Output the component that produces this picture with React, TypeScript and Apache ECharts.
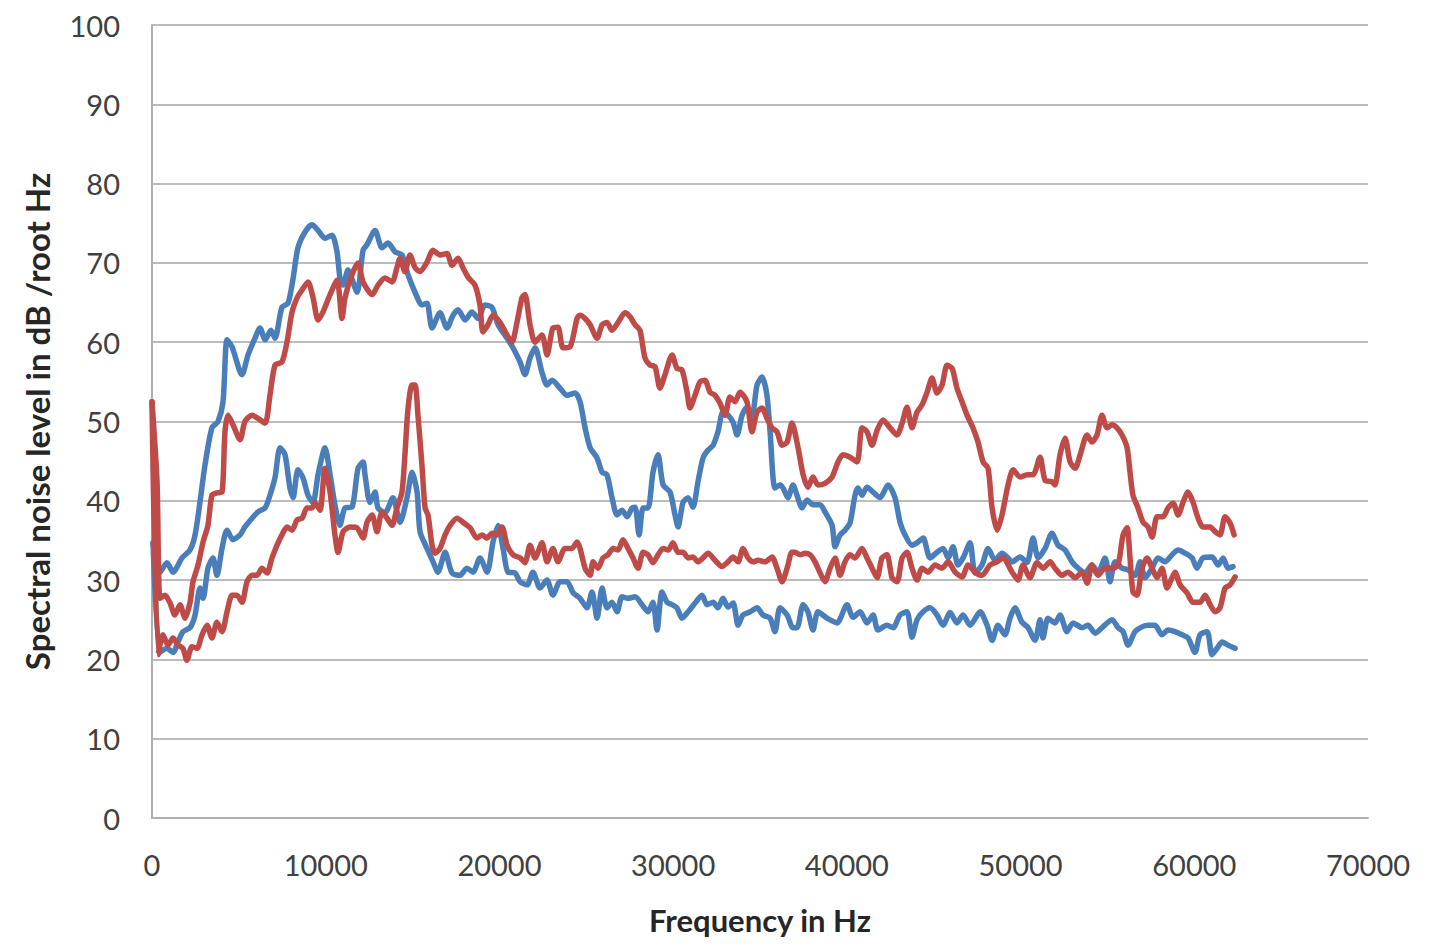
import React, { useEffect, useRef } from "react";
import * as echarts from "echarts";

// Frequency (kHz) and spectral noise level (dB / root Hz)
const freqA = [0.06,0.46,0.86,1.21,1.73,2.19,2.48,2.76,3.05,3.45,3.80,4.09,4.32,4.61,5.18,5.53,5.93,6.22,6.51,6.85,7.08,7.48,7.83,8.12,8.40,8.81,9.21,9.56,9.96,10.36,10.65,10.82,11.00,11.28,11.80,12.15,12.38,12.84,13.24,13.59,13.99,14.39,14.74,15.14,15.54,15.83,16.12,16.58,16.98,17.33,17.62,18.02,18.42,18.77,19.17,19.57,19.92,20.44,20.78,21.19,21.47,21.76,22.05,22.45,22.74,23.03,23.49,23.89,24.35,24.64,24.93,25.22,25.62,25.91,26.19,26.48,26.77,27.06,27.35,27.63,27.81,28.04,28.27,28.55,28.84,29.13,29.42,29.82,30.11,30.28,30.57,30.86,31.14,31.43,31.72,32.01,32.30,32.58,32.87,33.16,33.45,33.68,33.97,34.25,34.54,34.83,35.12,35.40,35.58,35.86,36.15,36.33,36.61,36.90,37.13,37.42,37.71,38.05,38.46,38.74,39.15,39.32,39.61,39.89,40.18,40.47,40.64,40.87,41.16,41.51,41.91,42.37,42.77,43.06,43.35,43.75,44.10,44.39,44.79,45.19,45.54,45.83,46.11,46.40,46.69,47.09,47.38,47.78,48.13,48.53,48.93,49.28,49.51,49.97,50.37,50.72,51.01,51.41,51.81,52.16,52.56,52.96,53.31,53.71,54.11,54.46,54.86,55.15,55.44,55.84,56.19,56.59,56.88,57.17,57.57,57.91,58.32,58.72,59.07,59.47,59.87,60.16,60.50,61.02,61.37,61.66,61.94,62.23];
const levelA = [34.7,31,32.2,31,32.8,33.8,35.7,39.8,44.5,49.2,50,52.5,60.3,59.4,55.9,58.4,60.5,61.8,60.3,61.5,60.5,64.4,64.9,68,71.9,73.9,74.8,74.1,73.1,73.5,71.4,68.1,67.2,69.1,66.3,71.6,72.3,74.1,71.9,72.5,71.4,71,68.5,66.3,64.7,64.9,61.8,63.7,61.8,63.4,64.1,62.8,63.8,63,64.7,64.4,62.2,60.5,59.3,57.5,55.9,58,59.3,56.2,54.6,55.2,54.2,53.3,53.6,52.5,49.2,46.7,45.4,43.6,43.3,40.4,38.2,38.8,38,39.1,39.2,35.7,39.1,39.1,43.6,45.8,42,41.1,38.2,36.7,39.8,40.4,39.2,42.4,45.4,46.4,47,48.7,51.2,50.8,49.9,48.3,50.8,51.8,50.8,54.6,55.6,53.3,48.7,41.6,42,41.6,40.4,42,40.7,39.1,40.1,39.5,39.5,38.6,36.9,34.2,35.7,36.3,37.2,40.7,41.6,40.7,41.7,41.1,40.4,42,40.4,37.3,35.7,34.4,34.8,35.3,32.8,33.5,34,32.8,34.2,31.9,32.8,34.7,30.9,31.9,34,32.5,33.4,32.8,32.3,32.9,32.2,35.3,32.8,34,35.9,34.4,33.8,32.3,31.5,30.9,31.9,31,32.8,29.8,32.3,31.5,31.3,30.6,32.3,30.3,31.5,32.8,32.3,33.2,33.8,33.4,32.8,31.5,32.8,32.9,31.9,32.8,31.5,31.7];

const freqB = [0.06,0.46,0.86,1.21,1.50,1.78,2.19,2.48,2.76,2.94,3.22,3.51,3.74,4.03,4.32,4.66,5.07,5.35,5.76,6.10,6.51,6.79,7.08,7.37,7.66,7.94,8.12,8.40,8.69,8.98,9.27,9.56,9.96,10.25,10.53,10.82,11.11,11.51,11.86,12.15,12.26,12.55,12.84,13.01,13.41,13.87,14.28,14.68,14.97,15.26,15.43,15.83,16.18,16.46,16.87,17.27,17.73,18.13,18.48,18.88,19.29,19.63,19.92,20.21,20.49,20.90,21.19,21.59,21.93,22.34,22.74,23.08,23.49,23.89,24.24,24.64,25.04,25.33,25.62,25.91,26.19,26.48,26.77,27.06,27.40,27.81,28.21,28.55,28.84,29.07,29.36,29.65,29.94,30.22,30.51,30.86,31.26,31.66,31.95,32.30,32.58,32.87,33.16,33.45,33.74,34.02,34.43,34.83,35.17,35.58,35.86,36.15,36.56,36.90,37.13,37.48,37.76,38.05,38.34,38.86,39.43,40.01,40.36,40.76,41.16,41.51,41.79,42.31,42.66,43.06,43.46,43.75,44.04,44.39,44.79,45.19,45.54,45.94,46.34,46.69,47.09,47.67,48.07,48.36,48.70,49.10,49.39,49.68,50.08,50.43,50.83,51.12,51.29,51.58,51.98,52.27,52.67,53.02,53.54,53.88,54.29,54.69,55.27,55.61,55.90,56.19,56.59,56.99,57.34,57.74,58.14,58.49,58.89,59.30,59.64,60.04,60.33,60.74,61.02,61.31,61.60,61.94,62.35];
const levelB = [34.7,20.9,21.4,20.9,22.2,23.5,24,25.6,29,27.7,31.5,32.8,30.6,34,36.3,35.1,35.7,36.7,37.8,38.6,39.1,40.7,42.9,46.7,45.8,41.6,40.4,43.9,42.9,40.7,39.8,43.3,46.7,43.3,39.5,36.9,39.1,39.2,44.1,44.9,43.3,39.8,41.1,39.1,38.5,40.4,37.3,40.4,43.6,41.1,36.1,34,32.3,31,33.5,30.9,30.6,31.5,31,32.8,31,34.8,36.9,34,31,30.9,29.8,29.4,31,29,30,28.1,29.8,29.8,28.4,27.7,26.5,28.5,25.2,29,26.5,27.2,26,27.9,27.7,27.9,26.9,26,27.2,23.7,28.5,27.2,26.9,26.5,25.2,26,27.1,28.1,26.9,27.2,26.5,27.7,26.6,27.1,24.3,25.6,26,26.5,25.6,25.2,23.5,26.5,25.6,24,24,26.9,26,23.7,26,25.2,24.6,26.9,25.3,26,24.6,25.6,23.7,24.3,24,25.6,26,22.8,25,26,26.5,25.6,24.3,25.9,24.6,25.6,24.3,26,24.3,22.4,24.3,23.1,25.2,26.5,24.7,24,22.4,25,22.7,25.2,24.6,25.6,23.5,24.6,24,24.3,23.3,24,25,24,23.5,21.8,23.5,24.1,24.3,24.3,23.1,23.7,23.5,23.1,22.7,20.9,23.1,23.5,20.6,21.4,22.2,21.8,21.4];

const freqC = [0,0.29,0.46,0.75,1.04,1.32,1.61,1.90,2.19,2.36,2.65,2.94,3.22,3.45,3.74,4.03,4.20,4.38,4.66,5.07,5.35,5.76,6.10,6.51,6.79,7.08,7.48,7.77,8.06,8.35,8.64,8.98,9.27,9.56,9.84,10.25,10.65,10.94,11.11,11.51,11.86,12.15,12.67,13.01,13.41,13.82,14.10,14.28,14.56,14.85,15.14,15.43,15.83,16.18,16.58,16.98,17.27,17.62,17.90,18.19,18.59,18.88,19.05,19.34,19.63,20.03,20.44,20.72,21.01,21.30,21.47,21.76,22.05,22.45,22.74,23.08,23.37,23.66,24.06,24.47,24.64,24.93,25.22,25.62,25.91,26.19,26.48,26.83,27.23,27.52,27.81,28.09,28.38,28.67,28.96,29.24,29.53,29.94,30.22,30.51,30.80,30.97,31.26,31.55,31.83,32.12,32.41,32.70,32.99,33.27,33.56,33.85,34.25,34.54,34.83,35.12,35.40,35.69,35.98,36.27,36.56,36.84,37.19,37.48,37.76,38.05,38.34,38.74,39.15,39.49,39.78,40.18,40.59,40.87,41.16,41.45,41.74,42.08,42.49,42.89,43.18,43.46,43.75,44.04,44.33,44.62,44.90,45.19,45.48,45.77,46.06,46.34,46.63,46.92,47.26,47.55,47.84,48.13,48.36,48.65,48.93,49.28,49.57,49.97,50.37,50.72,51.12,51.41,51.81,51.98,52.27,52.56,52.85,53.14,53.43,53.83,54.11,54.40,54.69,54.98,55.27,55.55,55.84,56.13,56.30,56.47,56.76,57.05,57.34,57.57,57.86,58.20,58.49,58.78,59.07,59.35,59.64,59.93,60.22,60.50,60.91,61.20,61.48,61.77,62.06,62.29];
const levelC = [52.5,42.4,27.7,28.1,27.1,25.6,26.9,25.2,27.2,29.8,31.9,34.8,36.9,40.7,41,41.1,48.7,50.8,49.6,47.7,50,50.8,50.4,49.8,53.3,57.1,57.5,60,63.8,65.6,66.6,67.6,65.6,62.8,63.8,66,67.8,63,65.6,68.5,70,67.6,66,67.2,68.1,67.6,69.4,70.6,68.9,71,69.4,68.9,70.1,71.6,71,71.2,69.7,70.6,69.4,68.2,67.2,64.7,61.3,62.2,63.4,62.5,60.9,60,62.5,65.6,66,62.2,60,60.9,58.4,61.8,61.9,59.3,59.4,63,63.4,63,62.2,60.5,62.2,62.5,61.5,62.5,63.7,63.2,62.2,61.5,58,57.1,56.9,54.2,55.9,58.4,56.7,56.5,53.7,51.7,53.3,55,55.2,53.7,53.3,52.3,50.8,53.1,52.5,53.7,52.5,48.7,51.2,51.7,50.4,49.2,48.7,47,47.4,49.8,46.7,43.3,41.7,43,42,42.2,43,44.9,45.8,45.5,44.9,49.2,48.7,47,48.9,50.2,49.2,48.3,49.8,51.8,49.2,51.2,52.1,53.7,55.5,53.6,54.6,57.1,56.7,54.2,52.5,50.8,49.2,47.4,44.9,44.1,39.1,36.3,38.2,42,43.9,43,43.3,43.3,45.5,42.6,42.4,42,45.8,47.9,44.9,44.1,45.8,48.3,47.4,48.3,50.8,49.2,49.6,49.2,48.3,46.7,43.6,40.7,39.1,37.3,36.7,35.4,38,38,39.1,39.7,38.2,39.8,41.1,39.8,37.8,36.7,36.7,36.1,35.7,38,37.2,35.7];

const freqD = [0,0.35,0.63,0.92,1.21,1.50,1.78,2.01,2.30,2.59,2.88,3.17,3.45,3.74,4.03,4.32,4.61,4.89,5.18,5.47,5.76,6.04,6.33,6.62,6.91,7.20,7.48,7.77,8.06,8.35,8.64,8.92,9.21,9.38,9.67,9.96,10.25,10.53,10.71,11.00,11.40,11.80,12.15,12.38,12.67,12.95,13.24,13.53,13.82,14.10,14.39,14.56,14.74,14.97,15.14,15.31,15.54,15.72,15.89,16.12,16.29,16.58,16.87,17.16,17.56,17.90,18.31,18.71,19.00,19.29,19.57,19.86,20.15,20.44,20.78,21.19,21.47,21.76,22.05,22.45,22.74,23.08,23.37,23.78,24.18,24.47,24.64,24.93,25.22,25.39,25.68,25.96,26.25,26.54,26.83,27.11,27.40,27.69,27.98,28.27,28.55,28.84,29.13,29.42,29.71,29.99,30.28,30.57,30.86,31.14,31.43,31.72,32.01,32.41,32.81,33.16,33.45,33.74,34.02,34.31,34.60,34.89,35.29,35.69,35.98,36.27,36.56,36.84,37.02,37.31,37.59,37.88,38.17,38.46,38.74,39.03,39.32,39.61,39.89,40.18,40.47,40.87,41.16,41.45,41.74,42.02,42.31,42.60,42.89,43.18,43.46,43.75,44.04,44.33,44.67,45.08,45.48,45.83,46.23,46.63,46.98,47.38,47.78,48.24,48.65,48.99,49.51,49.85,50.14,50.54,50.95,51.29,51.70,51.98,52.39,52.73,53.14,53.54,53.83,54.11,54.46,54.86,55.27,55.61,55.90,56.13,56.30,56.47,56.70,56.99,57.28,57.57,57.86,58.14,58.43,58.72,58.89,59.18,59.58,59.93,60.33,60.62,60.91,61.20,61.48,61.77,62.06,62.35];
const levelD = [52.5,20.6,23.1,21.8,22.7,21.8,21.4,19.9,21.6,21.4,23.1,24.3,22.7,24.7,23.5,26,28.1,28.1,27.2,29.8,30.6,30.6,31.5,30.9,32.8,34.4,35.7,36.7,36.3,37.6,37.8,39.1,39.1,39.8,38.8,44.1,41.1,35.7,33.5,36.1,36.7,36.6,35.3,37.3,38.2,36.1,38.6,37.8,36.9,39.1,41.1,45.8,51.7,54.6,54.6,50.8,44.5,39.1,38.2,34.4,33.4,34,35.7,36.9,37.8,37.3,36.6,35.3,35.7,35.3,35.9,35.7,36.7,34.4,33.2,32.8,32.2,34.4,32.8,34.7,32.3,34,32.3,34,34,34.8,34,31.5,30.6,32.3,31.5,32.8,33.2,34,33.8,35.1,34,32.8,31.5,33.5,33.2,32.2,33.2,34,33.8,34.7,33.5,33.5,32.8,32.9,32.3,32.8,33.4,32.5,31.7,32.3,32.9,32.3,34,32.8,32.3,32.5,32.3,32.9,31.5,29.8,31.5,33.5,33.5,33.2,33.4,33.2,32.3,30.9,29.8,31.5,32.8,30.6,32.3,33.2,32.8,34,32.8,31.5,30.3,32.8,33.2,30.3,29.8,32.8,33.5,31.5,30,31.5,31,31.9,31.5,32.3,31,30.4,31.9,31,30.6,31.9,32.3,32.8,31,30,31.9,30.3,32.2,31.5,32.3,31.5,30.6,31,30.3,31,29.6,31.9,30.6,31.5,31.5,31.9,35.7,36.6,32.8,28.5,28.1,31.5,32.8,31.5,30.3,31.5,29,30.3,31,29.4,28.4,27.2,27.2,28.1,26.9,26,26.5,29,29.4,30.4];

const yTicks = [0, 10, 20, 30, 40, 50, 60, 70, 80, 90, 100];
const xTicks = [0, 10000, 20000, 30000, 40000, 50000, 60000, 70000];

const BLUE = "#4a7ebb";
const RED = "#be4b48";

function pairs(f: number[], v: number[]) {
  return f.map((k, i) => [k * 1000, v[i]]);
}

export default function App() {
  const ref = useRef<HTMLDivElement>(null);
  useEffect(() => {
    if (!ref.current) return;
    const chart = echarts.init(ref.current, null, { renderer: "svg" });
    const lineSeries = (name: string, data: number[][], color: string) => ({
      name,
      type: "line",
      data,
      showSymbol: false,
      symbol: "none",
      smooth: 0.25,
      lineStyle: { color, width: 5.5, cap: "round", join: "round" },
      z: 3,
    });
    chart.setOption({
      animation: false,
      backgroundColor: "#ffffff",
      grid: { left: 152, right: 80, top: 25, bottom: 126, containLabel: false },
      xAxis: {
        type: "value",
        min: xTicks[0],
        max: xTicks[xTicks.length - 1],
        interval: 10000,
        name: "Frequency in Hz",
        nameLocation: "middle",
        nameGap: 86,
        nameTextStyle: { fontFamily: "Lato", fontWeight: "bold", fontSize: 31, color: "#262626" },
        axisLine: { show: true, lineStyle: { color: "#b0b0b0", width: 2 } },
        axisTick: { show: false },
        splitLine: { show: false },
        axisLabel: {
          fontFamily: "Lato",
          fontSize: 29,
          color: "#404040",
          margin: 32,
          formatter: (v: number) => String(v),
        },
      },
      yAxis: {
        type: "value",
        min: yTicks[0],
        max: yTicks[yTicks.length - 1],
        interval: 10,
        name: "Spectral noise level in dB /root Hz",
        nameLocation: "middle",
        nameGap: 99,
        nameTextStyle: { fontFamily: "Lato", fontWeight: "bold", fontSize: 33, color: "#262626" },
        axisLine: { show: true, lineStyle: { color: "#b0b0b0", width: 2 } },
        axisTick: { show: false },
        splitLine: { show: true, lineStyle: { color: "#bcbcbc", width: 2 } },
        axisLabel: {
          fontFamily: "Lato",
          fontSize: 29,
          color: "#404040",
          margin: 32,
          formatter: (v: number) => String(v),
        },
      },
      series: [
        lineSeries("Blue upper", pairs(freqA, levelA), BLUE),
        lineSeries("Blue lower", pairs(freqB, levelB), BLUE),
        lineSeries("Red upper", pairs(freqC, levelC), RED),
        lineSeries("Red lower", pairs(freqD, levelD), RED),
      ],
    });
    return () => chart.dispose();
  }, []);
  return (
    <div
      ref={ref}
      style={{ position: "absolute", left: 0, top: 0, width: 1448, height: 944 }}
    />
  );
}
